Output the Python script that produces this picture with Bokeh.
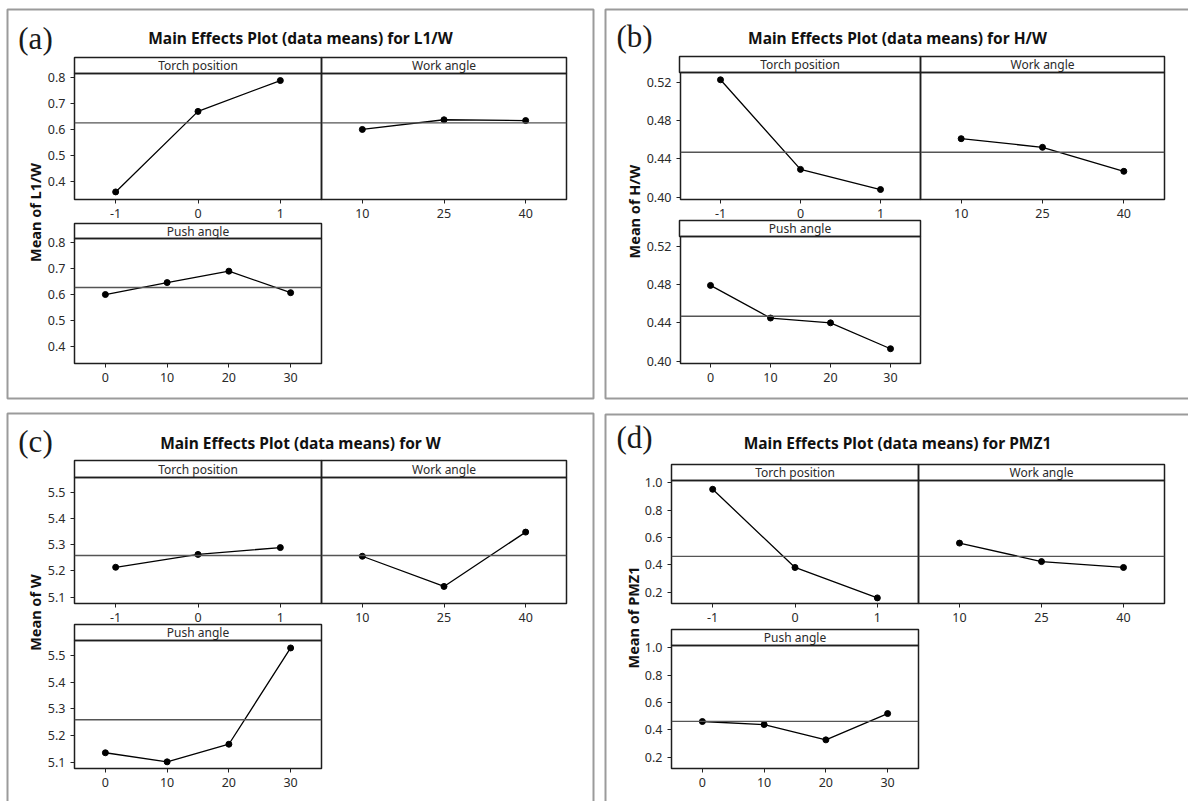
import math
from bokeh.plotting import figure
from bokeh.models import GridBox, Range1d, FixedTicker, Span, PrintfTickFormatter
from bokeh.embed import file_html
from bokeh.resources import INLINE
from bokeh.core.properties import value

# ---------------- data ----------------
factor_names = ["Torch position", "Work angle", "Push angle"]
torch_levels = [-1, 0, 1]
work_levels = [10, 25, 40]
push_levels = [0, 10, 20, 30]

panel_tags = ["(a)", "(b)", "(c)", "(d)"]
responses = ["L1/W", "H/W", "W", "PMZ1"]

l1w_torch = [0.362, 0.670, 0.788]
l1w_work = [0.601, 0.638, 0.635]
l1w_push = [0.599, 0.645, 0.689, 0.606]
l1w_mean = 0.626
l1w_ticks = [0.4, 0.5, 0.6, 0.7, 0.8]

hw_torch = [0.5224, 0.429, 0.408]
hw_work = [0.461, 0.452, 0.427]
hw_push = [0.479, 0.445, 0.440, 0.413]
hw_mean = 0.4468
hw_ticks = [0.40, 0.44, 0.48, 0.52]

w_torch = [5.214, 5.263, 5.289]
w_work = [5.256, 5.141, 5.348]
w_push = [5.135, 5.101, 5.167, 5.528]
w_mean = 5.259
w_ticks = [5.1, 5.2, 5.3, 5.4, 5.5]

pmz_torch = [0.952, 0.381, 0.159]
pmz_work = [0.559, 0.424, 0.381]
pmz_push = [0.461, 0.439, 0.327, 0.519]
pmz_mean = 0.462
pmz_ticks = [0.2, 0.4, 0.6, 0.8, 1.0]

# ---------------- layout / style ----------------
W, H = 1188, 801
AXW, AXH, PAD, TOPPAD = 36, 24, 2, 10
FONT = "Noto Sans"
x_ranges = [(-1.5, 1.5), (2.5, 47.5), (-5, 35)]
levels = [torch_levels, work_levels, push_levels]

panels = [
    dict(vals=[l1w_torch, l1w_work, l1w_push], mean=l1w_mean, ticks=l1w_ticks,
         yr=(0.333, 0.815), fmt="%.1f",
         box=(7, 9, 593, 398), tag=(35, 38), title=(300, 37), ylab=(34, 212),
         cols=(74, 321, 566), row1=(57, 73, 199), row2=(223, 238, 363)),
    dict(vals=[hw_torch, hw_work, hw_push], mean=hw_mean, ticks=hw_ticks,
         yr=(0.3976, 0.530), fmt="%.2f",
         box=(605, 9, 1196, 398), tag=(634, 36), title=(897, 37), ylab=(633, 211),
         cols=(679, 920, 1164), row1=(56, 72, 199), row2=(220, 236, 363)),
    dict(vals=[w_torch, w_work, w_push], mean=w_mean, ticks=w_ticks,
         yr=(5.076, 5.556), fmt="%.1f",
         box=(7, 413, 593, 812), tag=(35, 441), title=(300, 442), ylab=(34, 612),
         cols=(74, 321, 566), row1=(460, 477, 603), row2=(624, 640, 768)),
    dict(vals=[pmz_torch, pmz_work, pmz_push], mean=pmz_mean, ticks=pmz_ticks,
         yr=(0.118, 1.016), fmt="%.1f",
         box=(605, 414, 1196, 812), tag=(634, 437), title=(897, 442), ylab=(632, 617),
         cols=(671, 918, 1164), row1=(464, 480, 603), row2=(629, 645, 768)),
]

placed = []  # (fig, left, top, right, bottom)

# background figure: boxes, panel tags, titles, y labels
bg = figure(width=W, height=H, x_range=Range1d(0, W), y_range=Range1d(H, 0),
            output_backend="svg", toolbar_location=None, tools="",
            min_border=0, x_axis_location=None, y_axis_location=None)
bg.xgrid.visible = False
bg.ygrid.visible = False
bg.outline_line_color = None
bg.background_fill_color = "white"
bg.border_fill_color = "white"

for i, pn in enumerate(panels):
    x0, y0, x1, y1 = pn["box"]
    bg.quad(left=[x0], right=[x1], top=[y0], bottom=[y1], fill_color=None,
            line_color="#9b9b9b", line_width=2)
    bg.text(x=[pn["tag"][0]], y=[pn["tag"][1]], text=[panel_tags[i]],
            text_font=value("Liberation Serif"), text_font_size="31px",
            text_align="center", text_baseline="middle", text_color="#1a1a1a")
    bg.text(x=[pn["title"][0]], y=[pn["title"][1]],
            text=["Main Effects Plot (data means) for " + responses[i]],
            text_font=value(FONT), text_font_size="15.5px", text_font_style="bold",
            text_align="center", text_baseline="middle", text_color="#111111")
    bg.text(x=[pn["ylab"][0]], y=[pn["ylab"][1]], text=["Mean of " + responses[i]],
            text_font=value(FONT), text_font_size="14.5px", text_font_style="bold",
            text_align="center", text_baseline="middle", text_color="#111111",
            angle=math.pi / 2)

placed.append((bg, 0, 0, W, H))


def style_axis(ax):
    ax.axis_line_color = None
    ax.major_tick_line_color = "#222222"
    ax.major_tick_line_width = 1
    ax.major_tick_out = 4
    ax.major_tick_in = 0
    ax.minor_tick_line_color = None
    ax.major_label_text_font = FONT
    ax.major_label_text_font_size = "12.5px"
    ax.major_label_text_color = "#2a2a2a"
    ax.major_label_standoff = 5


def make_sub(pn, k, frame, has_y):
    fx0, fy0, fx1, fy1 = frame
    left = fx0 - (AXW if has_y else PAD)
    top = fy0 - TOPPAD
    right = fx1 + PAD
    bottom = fy1 + AXH
    p = figure(width=right - left, height=bottom - top,
               x_range=Range1d(*x_ranges[k]), y_range=Range1d(*pn["yr"]),
               output_backend="svg", toolbar_location=None, tools="",
               x_axis_location="below", y_axis_location="left" if has_y else None,
               min_border_left=(AXW if has_y else PAD), min_border_right=PAD,
               min_border_top=TOPPAD, min_border_bottom=AXH)
    p.background_fill_color = None
    p.border_fill_color = None
    p.outline_line_color = "#1e1e1e"
    p.outline_line_width = 1.5
    p.xgrid.visible = False
    p.ygrid.visible = False
    p.xaxis.ticker = FixedTicker(ticks=levels[k])
    p.xaxis.major_label_overrides = {lv: str(lv) for lv in levels[k]}
    style_axis(p.xaxis[0])
    if has_y:
        p.yaxis.ticker = FixedTicker(ticks=pn["ticks"])
        p.yaxis.formatter = PrintfTickFormatter(format=pn["fmt"])
        style_axis(p.yaxis[0])
    p.add_layout(Span(location=pn["mean"], dimension="width",
                      line_color="#555555", line_width=1.4))
    p.line(levels[k], pn["vals"][k], line_color="black", line_width=1.3)
    p.scatter(levels[k], pn["vals"][k], size=6, color="black")
    placed.append((p, left, top, right, bottom))


def make_strip(name, sx0, sy0, sx1, sy1):
    left, top, right, bottom = sx0 - PAD, sy0 - PAD, sx1 + PAD, sy1 + PAD
    s = figure(width=right - left, height=bottom - top,
               x_range=Range1d(0, 1), y_range=Range1d(0, 1),
               output_backend="svg", toolbar_location=None, tools="",
               x_axis_location=None, y_axis_location=None, min_border=PAD)
    s.background_fill_color = None
    s.border_fill_color = None
    s.outline_line_color = "#1e1e1e"
    s.outline_line_width = 1.5
    s.xgrid.visible = False
    s.ygrid.visible = False
    s.text(x=[0.5], y=[0.5], text=[name], text_font=value(FONT),
           text_font_size="12px", text_align="center", text_baseline="middle",
           text_color="#2a2a2a")
    placed.append((s, left, top, right, bottom))


for pn in panels:
    c0, c1, c2 = pn["cols"]
    s1, f1, b1 = pn["row1"]
    s2, f2, b2 = pn["row2"]
    make_strip(factor_names[0], c0, s1, c1, f1)
    make_strip(factor_names[1], c1, s1, c2, f1)
    make_strip(factor_names[2], c0, s2, c1, f2)
    make_sub(pn, 0, (c0, f1, c1, b1), True)
    make_sub(pn, 1, (c1, f1, c2, b1), False)
    make_sub(pn, 2, (c0, f2, c1, b2), True)

# grid tracks from all edges so figures can overlap freely
xs = sorted({v for _, l, t, r, b in placed for v in (l, r)} | {0, W})
ys = sorted({v for _, l, t, r, b in placed for v in (t, b)} | {0, H})
cols = [f"{xs[i + 1] - xs[i]}px" for i in range(len(xs) - 1)]
rows = [f"{ys[i + 1] - ys[i]}px" for i in range(len(ys) - 1)]
children = []
for f, l, t, r, b in placed:
    ci, cj = xs.index(l), xs.index(r)
    ri, rj = ys.index(t), ys.index(b)
    children.append((f, ri, ci, rj - ri, cj - ci))

grid = GridBox(children=children, rows=rows, cols=cols, spacing=0)

with open("out.html", "w") as fh:
    fh.write(file_html(grid, INLINE, title="Main Effects Plots"))
